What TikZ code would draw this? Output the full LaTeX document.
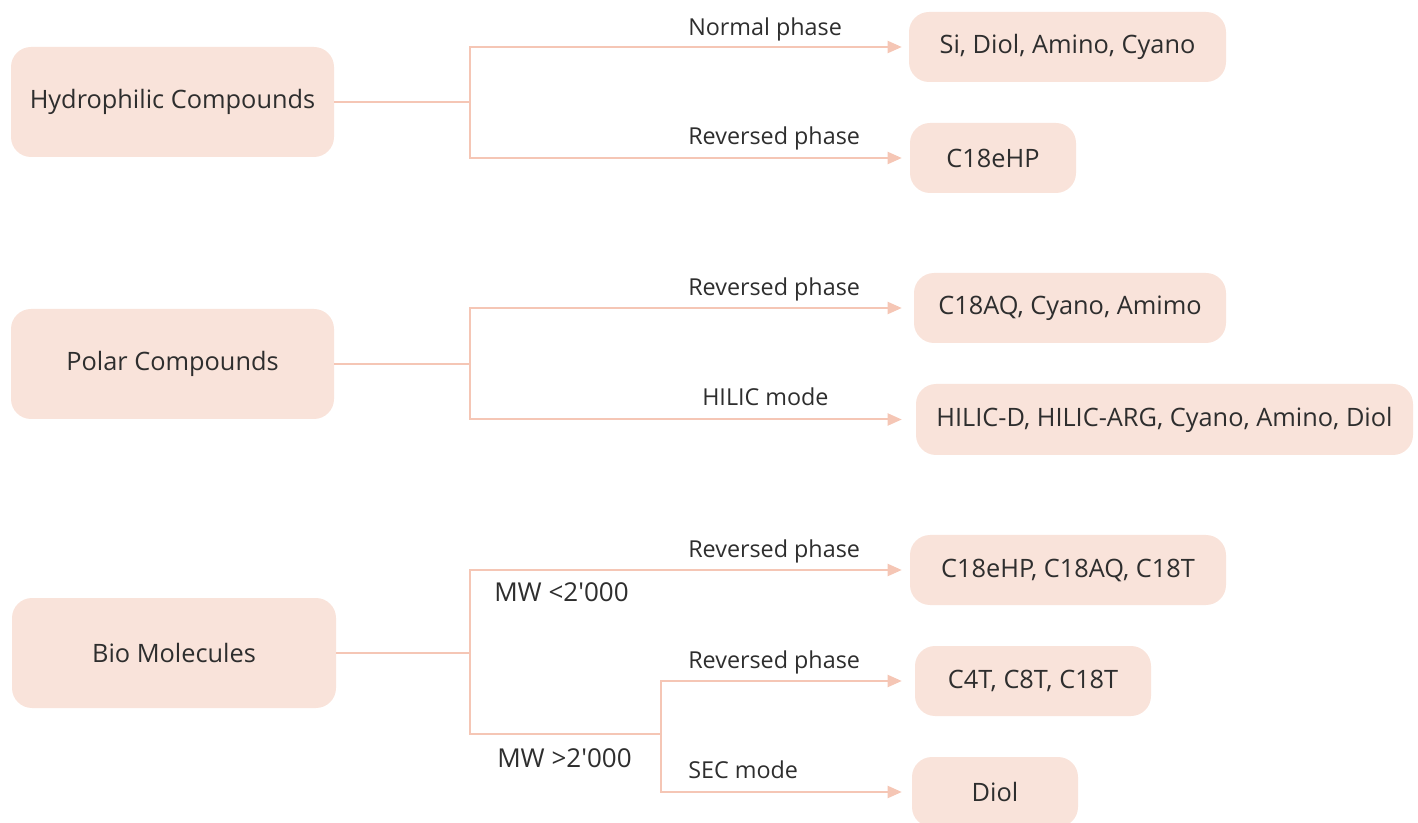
\documentclass[tikz,border=0pt]{standalone}
\usepackage{fontspec}
\setmainfont{Open Sans}
\newfontfamily\mwfont{Open Sans}
\usetikzlibrary{arrows.meta}
\definecolor{boxfill}{HTML}{F9E3DA}
\definecolor{linec}{HTML}{F5C6B5}
\definecolor{txt}{HTML}{2E2E2E}
\tikzset{
  box/.style={rounded corners=20*0.75pt, fill=boxfill, draw=none, inner sep=0pt, text=txt, font=\fontsize{19}{22}\selectfont},
  conn/.style={draw=linec, line width=1.5pt},
  arr/.style={conn, -{Triangle[length=10.5pt,width=9pt]}},
  lbl/.style={anchor=base west, inner sep=0pt, text=txt, font=\fontsize{17.5}{20}\selectfont},
  mwlbl/.style={lbl, font=\mwfont\fontsize{19.5}{22}\selectfont}
}
\begin{document}
\begin{tikzpicture}[x=0.75pt,y=-0.75pt]
\useasboundingbox (0,0) rectangle (1418,823);
\begin{scope}
\clip (0,0) rectangle (1418,823);
% left boxes
\node[box, minimum width=323*0.75pt, minimum height=110*0.75pt] (A) at (172.5,102) {Hydrophilic Compounds};
\node[box, minimum width=323*0.75pt, minimum height=110*0.75pt] (B) at (172.5,364) {Polar Compounds};
\node[box, minimum width=324*0.75pt, minimum height=110*0.75pt] (C) at (174,653) {Bio Molecules};
% right boxes
\node[box, minimum width=317*0.75pt, minimum height=70*0.75pt] (R1) at (1067.5,47) {Si, Diol, Amino, Cyano};
\node[box, minimum width=166*0.75pt, minimum height=70*0.75pt] (R2) at (993,158) {C18eHP};
\node[box, minimum width=312*0.75pt, minimum height=70*0.75pt] (R3) at (1070,308) {C18AQ, Cyano, Amimo};
\node[box, minimum width=497*0.75pt, minimum height=71*0.75pt] (R4) at (1164.5,419.5) {HILIC-D, HILIC-ARG, Cyano, Amino, Diol};
\node[box, minimum width=316*0.75pt, minimum height=70*0.75pt] (R5) at (1068,570) {C18eHP, C18AQ, C18T};
\node[box, minimum width=236*0.75pt, minimum height=70*0.75pt] (R6) at (1033,681) {C4T, C8T, C18T};
\node[box, minimum width=166*0.75pt, minimum height=70*0.75pt] (R7) at (995,792) {Diol};
\end{scope}
% junctions
\coordinate (j1) at (470,102);
\coordinate (j2) at (470,364);
\coordinate (j3) at (470,653);
\coordinate (j4) at (661,734);
% connectors
\draw[conn] (A.east) -- (j1);
\draw[arr, shorten >=7*0.75pt] (j1) |- (R1.west);
\draw[arr, shorten >=8*0.75pt] (j1) |- (R2.west);
\draw[conn] (B.east) -- (j2);
\draw[arr, shorten >=12*0.75pt] (j2) |- (R3.west);
\draw[arr, shorten >=14*0.75pt] (j2) |- (R4.west);
\draw[conn] (C.east) -- (j3);
\draw[arr, shorten >=8*0.75pt] (j3) |- (R5.west);
\draw[conn] (j3) |- (j4);
\draw[arr, shorten >=13*0.75pt] (j4) |- (R6.west);
\draw[arr, shorten >=10*0.75pt] (j4) |- (R7.west);
% labels
\node[lbl] (l1) at (688,36) {Normal phase};
\node[lbl] (l2) at (688,145) {Reversed phase};
\node[lbl] (l3) at (688,296) {Reversed phase};
\node[lbl] (l4) at (702,406) {HILIC mode};
\node[lbl] (l5) at (688,557) {Reversed phase};
\node[mwlbl] (l6) at (494,601) {MW <2'000};
\node[lbl] (l7) at (688,668) {Reversed phase};
\node[mwlbl] (l8) at (497,767) {MW >2'000};
\node[lbl] (l9) at (688,778) {SEC mode};
\end{tikzpicture}
\end{document}
